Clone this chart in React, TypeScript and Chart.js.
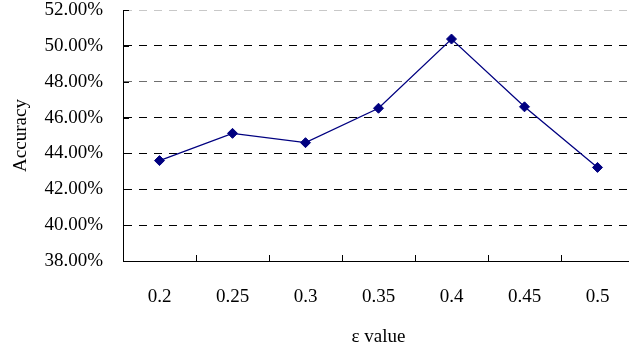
import React, { useEffect, useRef } from "react";
import { Chart, registerables } from "chart.js";

Chart.register(...registerables);

const categories = ["0.2", "0.25", "0.3", "0.35", "0.4", "0.45", "0.5"];
const accuracy = [43.6, 45.12, 44.6, 46.52, 50.38, 46.6, 43.22];
const yMin = 38;
const yMax = 52;
const yStep = 2;
const yTitle = "Accuracy";
const xTitle = "ε value";

const FONT = "'Liberation Serif', 'Times New Roman', serif";

const innerTicks = {
  id: "innerTicks",
  afterDatasetsDraw(chart: any) {
    const { ctx, chartArea } = chart;
    const xs = chart.scales.x;
    const ys = chart.scales.y;
    ctx.save();
    ctx.strokeStyle = "#000";
    ctx.lineWidth = 1;
    ctx.beginPath();
    const n = categories.length;
    for (let i = 1; i < n; i++) {
      const x = Math.round((xs.getPixelForValue(i - 1) + xs.getPixelForValue(i)) / 2) + 0.5;
      ctx.moveTo(x, chartArea.bottom);
      ctx.lineTo(x, chartArea.bottom - 6);
    }
    ys.ticks.forEach((t: any) => {
      const y = Math.round(ys.getPixelForValue(t.value)) + 0.5;
      ctx.moveTo(chartArea.left, y);
      ctx.lineTo(chartArea.left + 6, y);
    });
    ctx.stroke();
    ctx.restore();
  },
};

export default function App() {
  const ref = useRef<HTMLCanvasElement | null>(null);
  useEffect(() => {
    if (!ref.current) return;
    const chart = new Chart(ref.current, {
      type: "line",
      data: {
        labels: categories,
        datasets: [
          {
            data: accuracy,
            borderColor: "#000080",
            backgroundColor: "#000080",
            borderWidth: 1.3,
            pointStyle: "rectRot",
            pointRadius: 5,
            pointBorderWidth: 1,
            tension: 0,
          },
        ],
      },
      options: {
        responsive: false,
        animation: false,
        devicePixelRatio: 1,
        layout: { padding: { left: 0, top: 10, right: 3, bottom: 0 } },
        plugins: { legend: { display: false }, tooltip: { enabled: false } },
        scales: {
          x: {
            type: "category",
            offset: true,
            grid: { display: false, drawTicks: false },
            border: { display: true, color: "#000", width: 1 },
            ticks: { color: "#000", font: { family: FONT, size: 19 }, padding: 25 },
            title: {
              display: true,
              text: xTitle,
              color: "#000",
              font: { family: FONT, size: 19 },
              padding: { top: 0, bottom: 0 },
            },
            afterFit: (s: any) => {
              s.height = 87;
              s.paddingLeft = 0;
              s.paddingRight = 0;
            },
          },
          y: {
            min: yMin,
            max: yMax,
            ticks: {
              stepSize: yStep,
              color: "#000",
              font: { family: FONT, size: 19 },
              padding: 20,
              callback: (v: any) => Number(v).toFixed(2) + "%",
            },
            grid: {
              drawTicks: false,
              color: (c: any) =>
                c.tick && c.tick.value === 52 ? "#c8c8c8" : c.tick && c.tick.value === 48 ? "#6e6e6e" : "#000",
              lineWidth: 1,
            },
            border: { display: true, color: "#000", width: 1, dash: [8, 7] },
            title: {
              display: true,
              text: yTitle,
              color: "#000",
              font: { family: FONT, size: 19 },
              padding: { top: 10, bottom: 0 },
            },
            afterFit: (s: any) => {
              s.width = 123;
              s.paddingTop = 0;
              s.paddingBottom = 0;
            },
          },
        },
      },
      plugins: [innerTicks],
    });
    return () => chart.destroy();
  }, []);
  return (
    <div style={{ position: "fixed", left: 0, top: 0, width: 629, height: 348, overflow: "hidden", background: "#fff" }}>
      <canvas ref={ref} width={640} height={348} style={{ width: 640, height: 348, display: "block" }} />
    </div>
  );
}
